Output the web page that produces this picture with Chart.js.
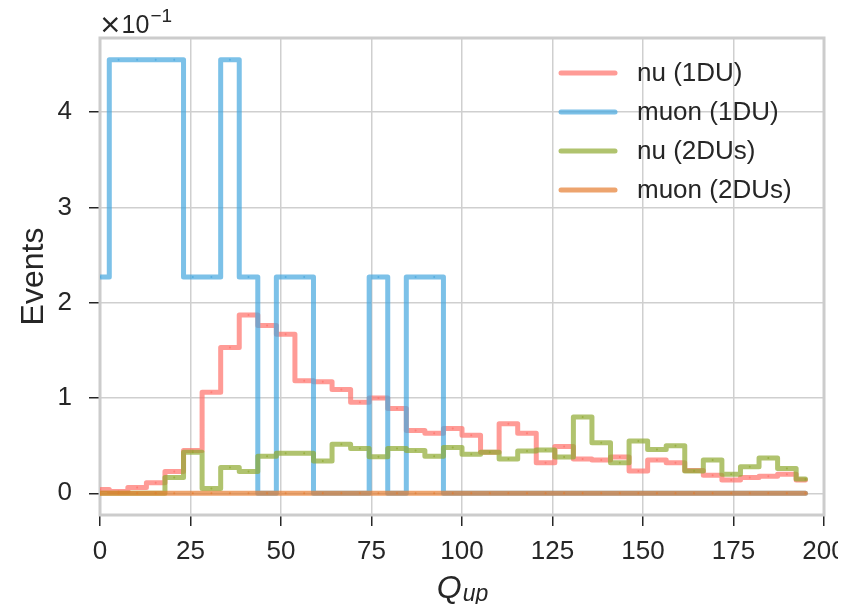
<!DOCTYPE html>
<html>
<head>
<meta charset="utf-8">
<script src="https://cdn.jsdelivr.net/npm/chart.js@4/dist/chart.umd.min.js"></script>
<style>
  html, body { margin: 0; background: #fff; overflow: hidden; }
</style>
</head>
<body>
<canvas id="myChart" width="838" height="604"></canvas>
<script>
// bin positions (Q_up) and histogram values
const qup = [0, 5.13, 10.26, 15.38, 20.51, 25.64, 30.77, 35.9, 41.03, 46.15,
    51.28, 56.41, 61.54, 66.67, 71.79, 76.92, 82.05, 87.18, 92.31, 97.44,
    102.56, 107.69, 112.82, 117.95, 123.08, 128.21, 133.33, 138.46, 143.59, 148.72,
    153.85, 158.97, 164.1, 169.23, 174.36, 179.49, 184.62, 189.74, 194.87]

const nu1DU = [0.004, 0.002, 0.006, 0.011, 0.023, 0.045, 0.106, 0.153, 0.187, 0.176,
    0.167, 0.118, 0.117, 0.109, 0.0955, 0.1, 0.089, 0.066, 0.063, 0.068,
    0.061, 0.043, 0.073, 0.063, 0.032, 0.049, 0.036, 0.035, 0.038, 0.0235,
    0.035, 0.032, 0.024, 0.019, 0.014, 0.0165, 0.018, 0.02, 0.014]

const muon1DU = [0.227, 0.455, 0.455, 0.455, 0.455, 0.227, 0.227, 0.455, 0.227, 0,
    0.227, 0.227, 0, 0, 0, 0.227, 0, 0.227, 0.227, 0,
    0, 0, 0, 0, 0, 0, 0, 0, 0, 0,
    0, 0, 0, 0, 0, 0, 0, 0, 0]

const nu2DUs = [0, 0, 0, 0, 0.0165, 0.043, 0.005, 0.027, 0.023, 0.039,
    0.042, 0.042, 0.034, 0.0515, 0.047, 0.0385, 0.047, 0.045, 0.039, 0.048,
    0.041, 0.043, 0.036, 0.0445, 0.0455, 0.038, 0.08, 0.053, 0.032, 0.055,
    0.046, 0.05, 0.0235, 0.035, 0.02, 0.028, 0.037, 0.026, 0.015]

const muon2DUs = [0, 0, 0, 0, 0, 0, 0, 0, 0, 0,
    0, 0, 0, 0, 0, 0, 0, 0, 0, 0,
    0, 0, 0, 0, 0, 0, 0, 0, 0, 0,
    0, 0, 0, 0, 0, 0, 0, 0, 0]

const yTicks = [0, 0.1, 0.2, 0.3, 0.4]

const fontName = '"Liberation Sans", Arial, sans-serif'
const textColor = '#262626'

function series(label, values, color, order) {
    return {
        label: label,
        data: values.map((v, i) => ({ x: qup[i], y: v })),
        borderColor: color,
        backgroundColor: color,
        borderWidth: 5,
        stepped: 'middle',
        pointRadius: 1,
        pointBorderWidth: 0,
        pointBackgroundColor: color,
        borderCapStyle: 'round',
        borderJoinStyle: 'round',
        fill: false,
        order: order
    }
}

// frame round the plot area
const frame = {
    id: 'frame',
    beforeDatasetsDraw(chart) {
        const { ctx, chartArea: a } = chart
        ctx.save()
        ctx.strokeStyle = '#cccccc'
        ctx.lineWidth = 3
        ctx.strokeRect(a.left, a.top, a.right - a.left, a.bottom - a.top)
        ctx.restore()
    }
}

// legend inside the plot, top right
const innerLegend = {
    id: 'innerLegend',
    afterDraw(chart) {
        const ctx = chart.ctx
        ctx.save()
        ctx.font = '26px ' + fontName
        ctx.textBaseline = 'middle'
        chart.data.datasets.forEach((ds, i) => {
            let y = 73 + i * 39
            ctx.strokeStyle = ds.borderColor
            ctx.lineWidth = 5
            ctx.lineCap = 'round'
            ctx.beginPath()
            ctx.moveTo(561, y)
            ctx.lineTo(615, y)
            ctx.stroke()
            ctx.fillStyle = textColor
            ctx.fillText(ds.label, 637, y + 1)
        })
        ctx.restore()
    }
}

// axis extras: Q_up label with subscript and the x10^-1 offset text
const extraText = {
    id: 'extraText',
    afterDraw(chart) {
        const ctx = chart.ctx
        ctx.save()
        ctx.fillStyle = textColor
        ctx.textBaseline = 'alphabetic'

        ctx.font = 'italic 32px ' + fontName
        let qw = ctx.measureText('Q').width
        ctx.font = 'italic 23px ' + fontName
        let sw = ctx.measureText('up').width
        let x0 = (chart.chartArea.left + chart.chartArea.right) / 2 - (qw + sw) / 2
        ctx.font = 'italic 32px ' + fontName
        ctx.fillText('Q', x0, 598)
        ctx.font = 'italic 23px ' + fontName
        ctx.fillText('up', x0 + qw + 1, 601)

        ctx.font = '27px "DejaVu Sans", sans-serif'
        ctx.fillText('\u00d7', 99, 33)
        let xw = ctx.measureText('\u00d7').width
        ctx.font = '25px ' + fontName
        ctx.fillText('10', 99 + xw, 33)
        let w = ctx.measureText('10').width
        ctx.font = '19px ' + fontName
        ctx.fillText('\u22121', 100 + xw + w, 22)
        ctx.restore()
    }
}

const ctx = document.getElementById('myChart')

new Chart(ctx, {
    type: 'line',
    data: {
        datasets: [
            series('nu (1DU)', nu1DU, 'rgba(255,112,105,0.7)', 4),
            series('muon (1DU)', muon1DU, 'rgba(69,166,222,0.7)', 3),
            series('nu (2DUs)', nu2DUs, 'rgba(142,169,49,0.7)', 2),
            series('muon (2DUs)', muon2DUs, 'rgba(229,125,48,0.7)', 1)
        ]
    },
    options: {
        responsive: false,
        animation: false,
        devicePixelRatio: 1,
        layout: { padding: { top: 38, right: 14, bottom: 0, left: 0 } },
        plugins: {
            legend: { display: false },
            tooltip: { enabled: false }
        },
        scales: {
            x: {
                type: 'linear',
                min: 0,
                max: 200,
                border: { display: false },
                grid: { color: '#cfcfcf', lineWidth: 1.5, tickLength: 11, tickColor: textColor, tickWidth: 1.5 },
                ticks: { stepSize: 25, autoSkip: false, maxRotation: 0, padding: 10,
                    color: textColor, font: { family: fontName, size: 26 } },
                afterFit(scale) {
                    scale.height = 89
                    scale.paddingLeft = 0
                    scale.paddingRight = 0
                }
            },
            y: {
                type: 'linear',
                min: -0.02275,
                max: 0.47775,
                border: { display: false },
                grid: { color: '#cfcfcf', lineWidth: 1.5, tickLength: 11, tickColor: textColor, tickWidth: 1.5 },
                afterBuildTicks(scale) {
                    scale.ticks = yTicks.map(v => ({ value: v }))
                },
                ticks: { padding: 17, color: textColor, font: { family: fontName, size: 26 },
                    callback: v => String(Math.round(v * 10)) },
                title: { display: true, text: 'Events', color: textColor,
                    font: { family: fontName, size: 32 }, padding: { top: 15, bottom: 0 } },
                afterFit(scale) {
                    scale.width = 100
                    scale.paddingTop = 0
                    scale.paddingBottom = 0
                }
            }
        }
    },
    plugins: [frame, innerLegend, extraText]
})
</script>
</body>
</html>
